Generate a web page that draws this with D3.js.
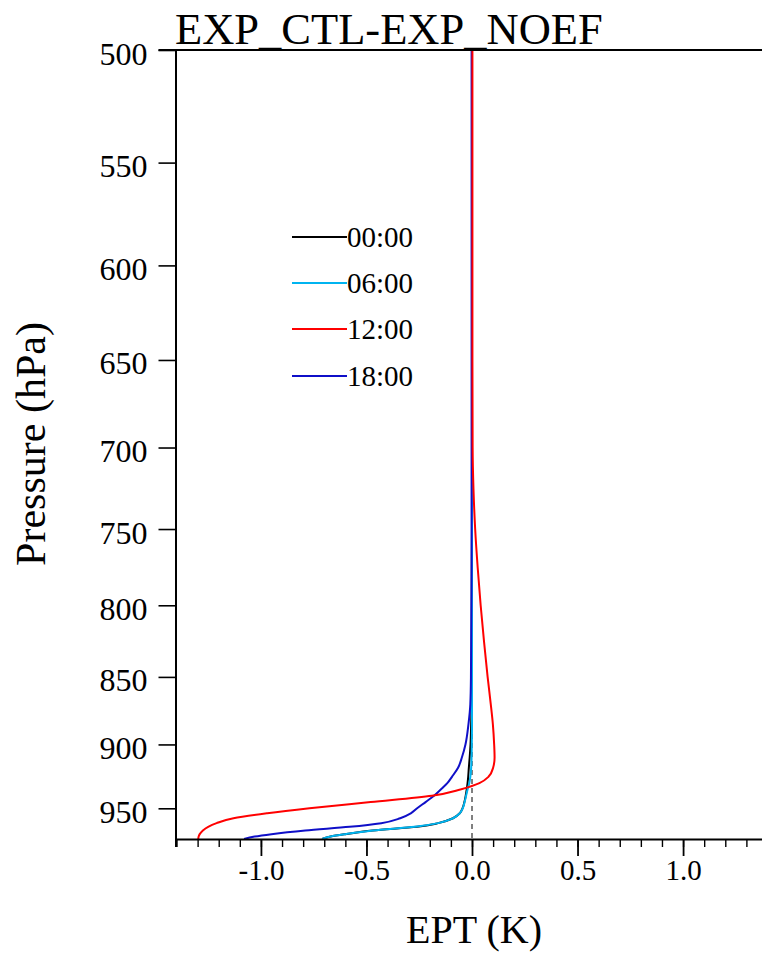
<!DOCTYPE html>
<html>
<head>
<meta charset="utf-8">
<script src="https://cdn.jsdelivr.net/npm/d3@7"></script>
<style>
  html, body { margin: 0; padding: 0; background: #fff; }
  svg { display: block; }
  text { font-family: "Liberation Serif", "Times New Roman", serif; fill: #000; }
</style>
</head>
<body>
<svg id="chart" width="762" height="953"></svg>
<script>
// Pressure levels (hPa) shared by every profile
const pressure = [500, 550, 600, 650, 700, 725, 750, 775, 800, 825, 850, 870, 885, 900, 910,
                  918, 925, 930, 935, 940, 945, 950, 954, 958, 962, 965, 968, 971, 973, 975];

// EPT difference profiles (K), EXP_CTL minus EXP_NOEF
const ept0000 = [0, 0, 0, 0, 0, 0, 0, -0.001, -0.001, -0.001, -0.001, -0.002, -0.004, -0.007, -0.011,
                 -0.015, -0.018, -0.021, -0.025, -0.030, -0.036, -0.045, -0.058, -0.090, -0.160, -0.260, -0.470, -0.600, -0.670, -0.710];
const ept0600 = [0, 0, 0, 0, 0, 0, 0, 0, 0, 0, 0, 0, 0, -0.001, -0.002,
                 -0.004, -0.008, -0.013, -0.021, -0.028, -0.035, -0.044, -0.058, -0.090, -0.160, -0.270, -0.470, -0.600, -0.670, -0.710];
const ept1200 = [0.002, 0.002, 0.002, 0.002, 0.003, 0.007, 0.015, 0.027, 0.041, 0.057, 0.074, 0.089, 0.099, 0.105, 0.107,
                 0.100, 0.078, 0.035, -0.055, -0.190, -0.480, -0.770, -0.970, -1.130, -1.210, -1.250, -1.275, -1.290, -1.295, -1.297];
const ept1800 = [-0.002, -0.002, -0.002, -0.002, -0.002, -0.002, -0.002, -0.002, -0.003, -0.004, -0.005, -0.008, -0.017, -0.031, -0.048,
                 -0.066, -0.095, -0.117, -0.148, -0.180, -0.220, -0.260, -0.290, -0.340, -0.430, -0.580, -0.790, -0.950, -1.030, -1.080];

const seriesNames = ["00:00", "06:00", "12:00", "18:00"];
const seriesColors = ["#000000", "#00b4f0", "#ff0000", "#0f0fc8"];
const seriesValues = [ept0000, ept0600, ept1200, ept1800];
// drawing order: red is painted last so it sits on top
const drawOrder = [0, 1, 3, 2];

const pressureTicks = [500, 550, 600, 650, 700, 750, 800, 850, 900, 950];
const eptMajorTicks = [-1.0, -0.5, 0.0, 0.5, 1.0];
const eptMinorTicks = d3.range(-14, 15).map(d => d / 10);

const titleText = "EXP_CTL-EXP_NOEF";
const xTitle = "EPT (K)";
const yTitle = "Pressure (hPa)";

const svg = d3.select("#chart");
const plotL = 176.5, plotR = 767.5, plotT = 50, plotB = 839;

const x = d3.scaleLinear().domain([-1.4, 1.4]).range([plotL, plotR]);
const y = d3.scaleLog().domain([500, 975]).range([plotT, plotB]);

// zero reference line
svg.append("line")
  .attr("x1", x(0)).attr("x2", x(0))
  .attr("y1", y(500)).attr("y2", y(975))
  .attr("stroke", "#000").attr("stroke-width", 1)
  .attr("stroke-dasharray", "5,4");

// profiles
const line = d3.line()
  .x(d => x(d[1]))
  .y(d => y(d[0]))
  .curve(d3.curveMonotoneY);

drawOrder.forEach(i => {
  const vals = seriesValues[i];
  svg.append("path")
    .datum(pressure.map((p, j) => [p, vals[j]]))
    .attr("fill", "none")
    .attr("stroke", seriesColors[i])
    .attr("stroke-width", 2)
    .attr("d", line);
});

// frame
svg.append("line").attr("x1", plotL - 18).attr("x2", plotR).attr("y1", plotT).attr("y2", plotT)
  .attr("stroke", "#000").attr("stroke-width", 2);
svg.append("line").attr("x1", plotR).attr("x2", plotR).attr("y1", plotT).attr("y2", plotB)
  .attr("stroke", "#000").attr("stroke-width", 2);

// y axis (pressure)
const yAxis = d3.axisLeft(y)
  .tickValues(pressureTicks)
  .tickFormat(d3.format("d"))
  .tickSize(18)
  .tickPadding(11);
const gy = svg.append("g").attr("transform", `translate(${plotL},0)`).call(yAxis);
gy.select(".domain").attr("stroke-width", 2).attr("d", `M-0.5,${plotT}V${plotB + 8}`);
gy.selectAll(".tick line").attr("stroke-width", 1.6);
gy.selectAll(".tick text")
  .attr("font-size", 32)
  .attr("font-family", "Liberation Serif, Times New Roman, serif")
  .attr("dy", null).attr("y", 14);

// x axis (EPT), minor then major ticks
const gxMinor = svg.append("g").attr("transform", `translate(0,${plotB})`)
  .call(d3.axisBottom(x).tickValues(eptMinorTicks).tickSize(8).tickFormat(""));
gxMinor.selectAll(".tick line").attr("stroke-width", 1.4);
gxMinor.select(".domain").remove();

const gx = svg.append("g").attr("transform", `translate(0,${plotB})`)
  .call(d3.axisBottom(x).tickValues(eptMajorTicks).tickSize(17).tickPadding(4)
        .tickFormat(d3.format(".1f")));
gx.select(".domain").attr("stroke-width", 2).attr("d", `M${plotL - 1},0.5H${plotR}`);
gx.selectAll(".tick line").attr("stroke-width", 1.8);
gx.selectAll(".tick text")
  .attr("font-size", 29)
  .attr("font-family", "Liberation Serif, Times New Roman, serif")
  .attr("dy", null).attr("y", 41)
  .text(d => d3.format(".1f")(d).replace("−", "-"));

// titles
svg.append("text").attr("x", 175).attr("y", 44)
  .attr("font-size", 44.5).text(titleText);
svg.append("text").attr("x", 474).attr("y", 943)
  .attr("text-anchor", "middle").attr("font-size", 40).text(xTitle);
svg.append("text")
  .attr("transform", "translate(45,444) rotate(-90)")
  .attr("text-anchor", "middle").attr("font-size", 42).text(yTitle);

// legend
const legendY = [237, 283, 329, 376];
seriesNames.forEach((name, i) => {
  svg.append("line")
    .attr("x1", 292).attr("x2", 347)
    .attr("y1", legendY[i]).attr("y2", legendY[i])
    .attr("stroke", seriesColors[i]).attr("stroke-width", 2);
  svg.append("text")
    .attr("x", 347).attr("y", legendY[i] + 10)
    .attr("font-size", 29).text(name);
});
</script>
</body>
</html>
